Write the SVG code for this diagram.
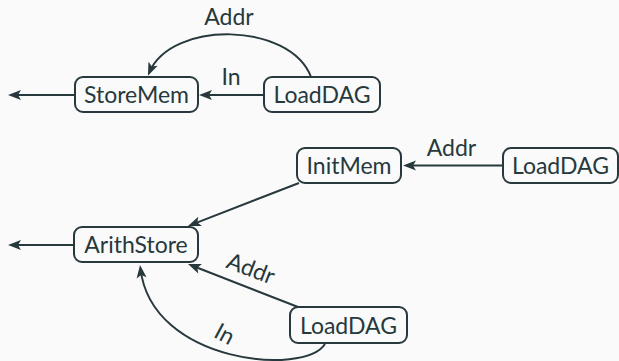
<svg xmlns="http://www.w3.org/2000/svg" width="619" height="361" viewBox="0 0 619 361">
  <style>
    .box { fill: #fafafa; stroke: #27393d; stroke-width: 2; }
    .lbl { font-family: Lato, "Open Sans", "DejaVu Sans", sans-serif; font-size: 23px; fill: #27393d; text-anchor: middle; }
    .edge { fill: none; stroke: #27393d; stroke-width: 2; marker-end: url(#head); }
  </style>
  <defs>
    <marker id="head" markerUnits="userSpaceOnUse" markerWidth="20" markerHeight="20" refX="0" refY="0" viewBox="-12 -10 20 20" orient="auto" overflow="visible">
      <path d="M4,0 L-9,-5 L-6,0 L-9,5 Z" fill="#27393d"/>
    </marker>
  </defs>
  <rect width="619" height="361" fill="#fafafa"/>

  <g id="connectors">
    <path class="edge" d="M75,95 L12,95"/>
    <path class="edge" d="M264,95 L203,95"/>
    <path class="edge" d="M311,77 C290,22 172,20 149.5,72"/>
    <path class="edge" d="M503,165.5 L407,165.5"/>
    <path class="edge" d="M299,183 L191.7,224.6"/>
    <path class="edge" d="M74,245 L12,245"/>
    <path class="edge" d="M298,307 L191.7,265.5"/>
    <path class="edge" d="M325,344 C305,376 152,364 140.5,269"/>
    <text class="lbl" x="229" y="25">Addr</text>
    <text class="lbl" x="231" y="85">In</text>
    <text class="lbl" x="451.5" y="156">Addr</text>
    <text class="lbl" transform="translate(248,276) rotate(21)" x="0" y="0">Addr</text>
    <text class="lbl" transform="translate(221,341) rotate(28)" x="0" y="0">In</text>
  </g>

  <g id="storemem">
    <rect class="box" x="75" y="77" width="123" height="35" rx="8"/>
    <text class="lbl" x="136.5" y="103">StoreMem</text>
  </g>
  <g id="loaddag-1">
    <rect class="box" x="264" y="77" width="116" height="35" rx="8"/>
    <text class="lbl" x="322" y="103">LoadDAG</text>
  </g>
  <g id="initmem">
    <rect class="box" x="297" y="148" width="104" height="35" rx="8"/>
    <text class="lbl" x="349" y="174">InitMem</text>
  </g>
  <g id="loaddag-2">
    <rect class="box" x="503" y="148" width="115" height="35" rx="8"/>
    <text class="lbl" x="560.5" y="174">LoadDAG</text>
  </g>
  <g id="arithstore">
    <rect class="box" x="74" y="227" width="124" height="35" rx="8"/>
    <text class="lbl" x="136" y="253">ArithStore</text>
  </g>
  <g id="loaddag-3">
    <rect class="box" x="290" y="307" width="117" height="36" rx="8"/>
    <text class="lbl" x="348.5" y="333.5">LoadDAG</text>
  </g>
</svg>
